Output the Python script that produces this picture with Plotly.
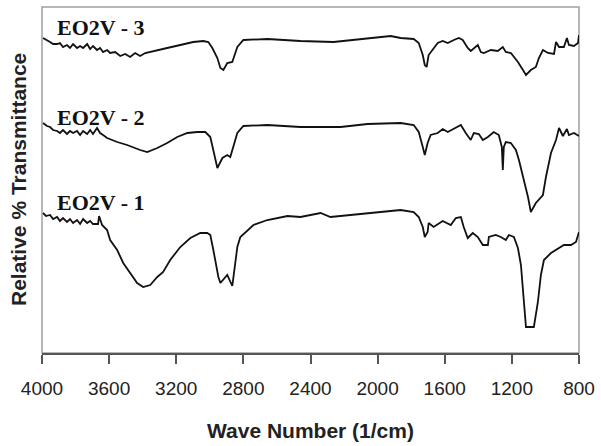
import plotly.graph_objects as go

# ---- data (wavenumber in 1/cm, relative transmittance in arbitrary units) ----
wn_3 = [3994, 3970, 3952, 3934, 3910, 3893, 3875, 3851, 3833, 3815, 3791, 3773, 3755, 3731,
        3713, 3696, 3672, 3654, 3636, 3612, 3594, 3564, 3534, 3504, 3475, 3445, 3415, 3385,
        3355, 3313, 3254, 3176, 3099, 3039, 3009, 2985, 2955, 2937, 2919, 2896, 2866, 2836,
        2800, 2657, 2460, 2263, 2060, 1922, 1863, 1785, 1755, 1731, 1719, 1708, 1696, 1672,
        1642, 1612, 1582, 1546, 1516, 1493, 1463, 1445, 1403, 1385, 1367, 1325, 1284, 1254,
        1236, 1206, 1164, 1134, 1116, 1087, 1057, 1039, 1015, 985, 949, 937, 919, 890, 872,
        860, 830, 806, 800]
t_3 = [315, 313, 311, 309, 309, 310, 306, 308, 305, 309, 305, 307, 305, 309,
       304, 307, 303, 305, 301, 303, 300, 301, 297, 299, 296, 300, 297, 300,
       301, 303, 305, 308, 311, 312, 311, 305, 295, 285, 283, 290, 291, 306,
       313, 314, 312, 311, 315, 317, 315, 314, 310, 298, 288, 286, 298, 303,
       310, 312, 310, 313, 315, 313, 305, 302, 308, 301, 300, 303, 302, 306,
       301, 300, 291, 283, 278, 283, 286, 295, 303, 300, 299, 311, 306, 306, 315,
       308, 307, 310, 318]

wn_2 = [3994, 3970, 3952, 3934, 3910, 3893, 3875, 3851, 3833, 3815, 3791, 3773, 3755, 3731,
        3713, 3696, 3672, 3654, 3636, 3612, 3552, 3493, 3415,
        3373, 3313, 3254, 3194, 3134, 3075, 3027, 2997, 2979, 2955, 2925, 2896, 2878, 2836,
        2800, 2657, 2460, 2221, 2060, 1863, 1785, 1755, 1731, 1719, 1702, 1684, 1642, 1612,
        1582, 1534, 1504, 1475, 1445, 1427, 1397, 1373, 1343, 1308, 1278, 1260, 1254, 1248,
        1236, 1206, 1176, 1158, 1128, 1104, 1087, 1057, 1015, 997, 967, 937, 919, 896, 872,
        860, 830, 800]
t_2 = [230, 227, 226, 223, 222, 220, 223, 219, 222, 220, 222, 218, 222, 219,
       223, 219, 225, 220, 218, 215, 211, 208, 203,
       201, 205, 210, 216, 220, 221, 221, 216, 203, 185, 195, 198, 196, 220,
       227, 228, 226, 226, 229, 230, 228, 221, 206, 198, 210, 218, 220, 224,
       221, 225, 228, 220, 213, 220, 219, 213, 216, 221, 218, 206, 183, 206,
       211, 210, 203, 193, 173, 156, 141, 150, 158, 176, 200, 213, 225, 217, 224,
       218, 220, 217]

wn_1 = [3994, 3976, 3952, 3934, 3910, 3893, 3875, 3851, 3833, 3815, 3791, 3773, 3755, 3731,
        3713, 3696, 3666, 3660, 3642,
        3612, 3594, 3552, 3516, 3475, 3433, 3397, 3355, 3313, 3278, 3236, 3176, 3116, 3057,
        3015, 2997, 2979, 2949, 2937, 2896, 2866, 2836, 2818, 2740, 2657, 2537, 2460, 2340,
        2281, 2060, 1863, 1785, 1755, 1731, 1719, 1702, 1696, 1666, 1612, 1564, 1534, 1504,
        1487, 1463, 1433, 1403, 1373, 1343, 1337, 1296, 1266, 1236, 1218, 1188, 1164, 1146,
        1128, 1116, 1069, 1045, 1027, 1009, 967, 919, 890, 848, 818, 800]
t_1 = [140, 137, 138, 134, 136, 132, 135, 131, 134, 130, 133, 129, 134, 130,
       132, 129, 129, 137, 128,
       123, 113, 103, 90, 80, 70, 66, 68, 76, 81, 93, 106, 115, 120,
       120, 118, 103, 76, 70, 78, 67, 106, 116, 128, 133, 137, 136, 140,
       136, 140, 143, 141, 136, 126, 116, 121, 130, 126, 132, 128, 135, 136,
       126, 115, 120, 116, 108, 108, 116, 118, 116, 113, 118, 116, 105, 88,
       51, 26, 26, 51, 78, 93, 100, 105, 108, 108, 111, 121]

labels = ["EO2V - 3", "EO2V - 2", "EO2V - 1"]
label_y = [326, 236, 151]
x_ticks = [4000, 3600, 3200, 2800, 2400, 2000, 1600, 1200, 800]

fig = go.Figure()
for wn, t in [(wn_3, t_3), (wn_2, t_2), (wn_1, t_1)]:
    fig.add_trace(go.Scatter(x=wn, y=t, mode="lines",
                             line=dict(color="#111111", width=1.8),
                             showlegend=False, hoverinfo="skip"))

for lab, ly in zip(labels, label_y):
    fig.add_annotation(x=3925, y=ly, xref="x", yref="y", text="<b>" + lab + "</b>",
                       showarrow=False, xanchor="left", yanchor="middle",
                       font=dict(family="Liberation Serif", size=22, color="#111111"))

# axis titles
fig.add_annotation(x=0, y=0.5, xref="paper", yref="paper", xshift=-24,
                   text="<b>Relative % Transmittance</b>", textangle=-90,
                   showarrow=False, xanchor="center", yanchor="middle",
                   font=dict(family="Liberation Sans", size=21, color="#222222"))
fig.add_annotation(x=0.5, y=0, xref="paper", yref="paper", yshift=-77,
                   text="<b>Wave Number (1/cm)</b>",
                   showarrow=False, xanchor="center", yanchor="middle",
                   font=dict(family="Liberation Sans", size=21, color="#222222"))

# light grey frame
fig.add_shape(type="rect", xref="paper", yref="paper", x0=0, y0=0, x1=1, y1=1,
              line=dict(color="#a0a0a0", width=1.5), layer="below")

fig.update_layout(
    width=601, height=446,
    margin=dict(l=42, r=22, t=7, b=93),
    paper_bgcolor="white", plot_bgcolor="white",
    xaxis=dict(range=[4000, 800], tickvals=x_ticks, ticktext=[str(v) for v in x_ticks],
               showgrid=False, zeroline=False, showline=True, linecolor="#555555",
               linewidth=1.5, ticks="outside", ticklen=9, tickcolor="#555555",
               tickwidth=1.5, ticklabelstandoff=8,
               tickfont=dict(family="Liberation Sans", size=19, color="#222222")),
    yaxis=dict(range=[0, 346], showgrid=False, zeroline=False, showline=False,
               showticklabels=False, ticks=""),
)

fig.write_html("out.html", config={"displayModeBar": False},
               post_script="document.body.style.margin='0';document.body.style.overflow='hidden';")
